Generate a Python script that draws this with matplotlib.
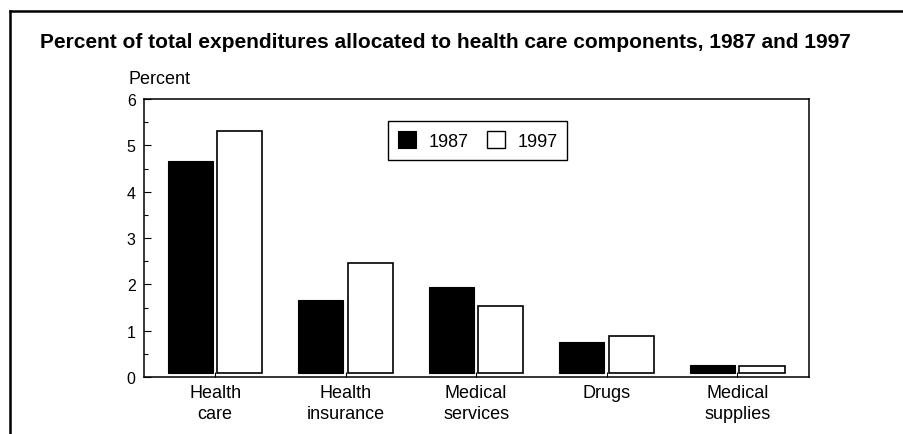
import matplotlib.pyplot as plt
from matplotlib.lines import Line2D
from matplotlib.patches import Patch
import numpy as np

plt.rcParams['font.family'] = ['Liberation Sans', 'DejaVu Sans']

# values (percent of total expenditures)
categories = ["Health\ncare", "Health\ninsurance", "Medical\nservices", "Drugs", "Medical\nsupplies"]
pct_1987 = [4.67, 1.67, 1.94, 0.76, 0.25]
pct_1997 = [5.30, 2.45, 1.53, 0.88, 0.23]
years = ["1987", "1997"]

W, H = 904, 435
fig = plt.figure(figsize=(W / 100, H / 100), dpi=100)
ax = fig.add_axes([144 / W, 1 - 378 / H, (809 - 144) / W, (378 - 100) / H])

x = np.arange(len(categories))
base = 0.08   # bars float a little above the zero line
w = 0.345
ax.bar(x - 0.19, np.array(pct_1987) - base, w, bottom=base, color="black", edgecolor="black", linewidth=0.8)
ax.bar(x + 0.19, np.array(pct_1997) - base, w, bottom=base, color="white", edgecolor="black", linewidth=1.2)

ax.set_xlim(-0.545, 4.55)
ax.set_ylim(0, 6)
ax.set_yticks(range(7))
ax.set_yticks(np.arange(0.5, 6, 1), minor=True)
ax.set_xticks(x)
ax.set_xticklabels(categories, fontsize=13, linespacing=1.3)
ax.tick_params(axis="y", which="major", direction="in", length=5, width=0.8, labelsize=11.5, pad=6)
ax.tick_params(axis="y", which="minor", direction="in", length=3, width=0.8)
ax.tick_params(axis="x", direction="in", length=3.5, width=0.8, pad=5)
for s in ax.spines.values():
    s.set_linewidth(1.1)

handles = [Patch(facecolor="black", edgecolor="black", linewidth=0.8),
           Patch(facecolor="white", edgecolor="black", linewidth=1.0)]
leg = ax.legend(handles, years, loc="upper left", bbox_to_anchor=(0.367, 0.921),
                borderaxespad=0, ncol=2, fontsize=13, frameon=True, fancybox=False,
                edgecolor="black", framealpha=1, handlelength=1.0, handleheight=1.1,
                handletextpad=0.7, columnspacing=1.0, borderpad=0.55)
leg.get_frame().set_linewidth(1.0)

fig.text(40 / W, 1 - 43 / H, "Percent of total expenditures allocated to health care components, 1987 and 1997",
         fontsize=15, fontweight="bold", ha="left", va="center")
fig.text(128 / W, 1 - 80 / H, "Percent", fontsize=13, ha="left", va="center")

# outer frame (top and left edges)
fig.add_artist(Line2D([10 / W, 1.0], [1 - 12 / H, 1 - 12 / H], transform=fig.transFigure, color="black", linewidth=1.8))
fig.add_artist(Line2D([10 / W, 10 / W], [0.0, 1 - 12 / H], transform=fig.transFigure, color="black", linewidth=1.8))

fig.savefig("out.png", dpi=100)
